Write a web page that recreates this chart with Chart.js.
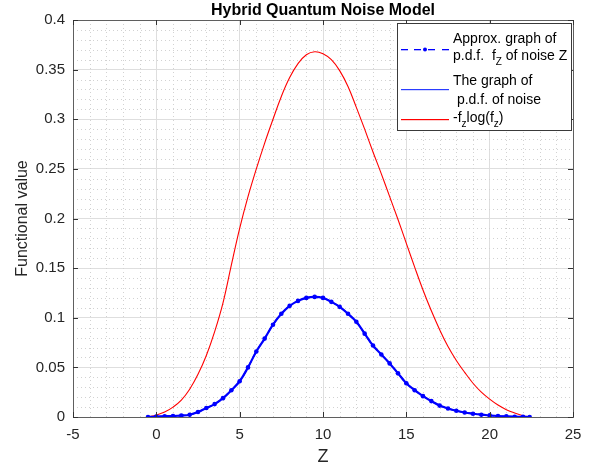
<!DOCTYPE html>
<html>
<head>
<meta charset="utf-8">
<script src="https://cdn.jsdelivr.net/npm/chart.js@4.4.1/dist/chart.umd.min.js"></script>
<style>
html,body{margin:0;padding:0;background:#fff;}
#wrap{width:591px;height:466px;position:relative;}
</style>
</head>
<body>
<div id="wrap"><canvas id="c" width="591" height="466"></canvas></div>
<script>
const chartTitle = "Hybrid Quantum Noise Model";
const xAxisTitle = "Z";
const yAxisTitle = "Functional value";
const xTicks = [-5, 0, 5, 10, 15, 20, 25];
const yTicks = [0, 0.05, 0.1, 0.15, 0.2, 0.25, 0.3, 0.35, 0.4];

const zValues = [-0.5, 0, 0.5, 1, 1.5, 2, 2.5, 3, 3.5, 4, 4.5, 5, 5.5, 6, 6.5, 7, 7.5, 8, 8.5, 9, 9.5, 10,
  10.5, 11, 11.5, 12, 12.5, 13, 13.5, 14, 14.5, 15, 15.5, 16, 16.5, 17, 17.5, 18, 18.5, 19, 19.5, 20,
  20.5, 21, 21.5, 22, 22.4];
const pdfApprox = [0, 0.0005, 0.0008, 0.001, 0.0015, 0.0023, 0.005, 0.009, 0.013, 0.019, 0.027, 0.036, 0.05,
  0.066, 0.079, 0.093, 0.104, 0.112, 0.117, 0.12, 0.121, 0.12, 0.116, 0.111, 0.104, 0.096, 0.084, 0.072,
  0.063, 0.054, 0.044, 0.034, 0.027, 0.021, 0.016, 0.0115, 0.0085, 0.0063, 0.0045, 0.0033, 0.0023, 0.0016,
  0.001, 0.0006, 0.0003, 0.0001, 0];
const pdfExact = [0, 0.0005, 0.0008, 0.001, 0.0015, 0.0023, 0.005, 0.009, 0.013, 0.019, 0.027, 0.036, 0.05,
  0.066, 0.079, 0.093, 0.104, 0.112, 0.117, 0.12, 0.121, 0.12, 0.116, 0.111, 0.104, 0.096, 0.084, 0.072,
  0.063, 0.054, 0.044, 0.034, 0.027, 0.021, 0.016, 0.0115, 0.0085, 0.0063, 0.0045, 0.0033, 0.0023, 0.0016,
  0.001, 0.0006, 0.0003, 0.0001, 0];
const entropyTerm = [0, 0.002, 0.005, 0.010, 0.017, 0.028, 0.043, 0.062, 0.086, 0.115, 0.153, 0.19, 0.222,
  0.25, 0.276, 0.3, 0.323, 0.342, 0.356, 0.365, 0.368, 0.366, 0.36, 0.349, 0.333, 0.312, 0.29, 0.267, 0.245,
  0.222, 0.199, 0.175, 0.151, 0.128, 0.107, 0.088, 0.071, 0.057, 0.045, 0.034, 0.025, 0.018, 0.012, 0.0074,
  0.004, 0.0013, 0];

function pts(xs, ys){ return xs.map((x,i)=>({x:x, y:ys[i]})); }

const FONT = "'Liberation Sans', Arial, Helvetica, sans-serif";

const decorPlugin = {
  id: 'decor',
  beforeDatasetsDraw(chart){
    const {ctx, chartArea:a, scales:{x, y}} = chart;
    ctx.save();
    ctx.strokeStyle = '#d2d2d2';
    ctx.lineWidth = 1;
    ctx.setLineDash([1, 3]);
    for (let v = -4; v < 25; v++) {
      if (v % 5 === 0) continue;
      const px = Math.round(x.getPixelForValue(v)) + 0.5;
      ctx.beginPath(); ctx.moveTo(px, a.top); ctx.lineTo(px, a.bottom); ctx.stroke();
    }
    for (let k = 1; k < 40; k++) {
      if (k % 5 === 0) continue;
      const py = Math.round(y.getPixelForValue(k/100)) + 0.5;
      ctx.beginPath(); ctx.moveTo(a.left, py); ctx.lineTo(a.right, py); ctx.stroke();
    }
    ctx.restore();
  },
  afterDraw(chart){
    const {ctx, chartArea:a, scales:{x, y}} = chart;
    ctx.save();
    ctx.setLineDash([]);
    ctx.lineWidth = 1;
    ctx.strokeStyle = '#5f5f5f';
    ctx.strokeRect(Math.round(a.left)+0.5, Math.round(a.top)+0.5, Math.round(a.right-a.left), Math.round(a.bottom-a.top));
    ctx.fillStyle = '#333333';
    xTicks.forEach(v=>{
      const px = Math.round(x.getPixelForValue(v));
      ctx.fillRect(px, a.bottom-5, 1, 5);
      ctx.fillRect(px, a.top, 1, 5);
    });
    yTicks.forEach(v=>{
      const py = Math.round(y.getPixelForValue(v));
      ctx.fillRect(a.left, py, 5, 1);
      ctx.fillRect(a.right-5, py, 5, 1);
    });
    ctx.fillStyle = '#000';
    ctx.font = "bold 16px " + FONT;
    ctx.textAlign = 'center';
    ctx.textBaseline = 'middle';
    ctx.fillText(chartTitle, (a.left + a.right)/2, 11);

    const lx = 397, ly = 23, lw = 174, lh = 107;
    ctx.fillStyle = '#fff';
    ctx.fillRect(lx, ly, lw, lh);
    ctx.strokeStyle = '#3a3a3a';
    ctx.strokeRect(lx+0.5, ly+0.5, lw, lh);

    ctx.fillStyle = '#0000ff';
    [[401,7],[414,7],[428,7],[442,7]].forEach(s=>ctx.fillRect(s[0], 49, s[1], 1.3));
    ctx.beginPath(); ctx.arc(425, 49.6, 2, 0, Math.PI*2); ctx.fill();
    ctx.fillStyle = '#2a3cff';
    ctx.fillRect(401, 89, 48, 1.2);
    ctx.fillStyle = '#ff0000';
    ctx.fillRect(401, 119, 48, 1.2);

    ctx.fillStyle = '#000';
    ctx.textAlign = 'left';
    ctx.textBaseline = 'alphabetic';
    const main = "14px " + FONT, sub = "10px " + FONT;
    function runs(parts, x0, base){
      let cx = x0;
      parts.forEach(p=>{
        ctx.font = p.s ? sub : main;
        ctx.fillText(p.t, cx, base + (p.s ? 5 : 0));
        cx += ctx.measureText(p.t).width;
      });
    }
    runs([{t:"Approx. graph of"}], 453, 43);
    runs([{t:"p.d.f.  f"},{t:"Z",s:1},{t:" of noise Z"}], 453, 60);
    runs([{t:"The graph of"}], 453, 85);
    runs([{t:" p.d.f. of noise"}], 453, 104);
    runs([{t:"-f"},{t:"z",s:1},{t:"log(f"},{t:"z",s:1},{t:")"}], 453, 122);
    ctx.restore();
  }
};

new Chart(document.getElementById('c'), {
  type: 'scatter',
  data: {
    datasets: [
      {
        label: 'The graph of p.d.f. of noise',
        data: pts(zValues, pdfExact),
        showLine: true,
        borderColor: '#0000ff',
        backgroundColor: '#0000ff',
        borderWidth: 2.2,
        pointRadius: 0,
        tension: 0.4
      },
      {
        label: 'Approx. graph of p.d.f. f_Z of noise Z',
        data: pts(zValues, pdfApprox),
        showLine: true,
        borderColor: '#0000ff',
        backgroundColor: '#0000ff',
        borderWidth: 1.5,
        borderDash: [6, 4],
        pointRadius: 2.3,
        pointBorderWidth: 0,
        tension: 0.4
      },
      {
        label: '-f_z log(f_z)',
        data: pts(zValues, entropyTerm),
        showLine: true,
        borderColor: '#ff0000',
        backgroundColor: '#ff0000',
        borderWidth: 1.1,
        pointRadius: 0,
        tension: 0.4
      }
    ]
  },
  options: {
    responsive: false,
    animation: false,
    devicePixelRatio: 1,
    layout: { padding: { top: 20, right: 18, left: 0, bottom: 0 } },
    plugins: { legend: { display: false }, title: { display: false }, tooltip: { enabled: false } },
    scales: {
      x: {
        type: 'linear', min: -5, max: 25,
        afterBuildTicks(s){ s.ticks = xTicks.map(v=>({value:v})); },
        afterFit(s){ s.height = 49; },
        grid: { color: '#dedede', lineWidth: 1, drawTicks: false },
        border: { display: false },
        ticks: { padding: 9, color: '#262626', font: { family: FONT, size: 15 }, maxRotation: 0,
          callback: v => String(v) },
        title: { display: true, text: xAxisTitle, color: '#262626', padding: 0,
          font: { family: FONT, size: 18, lineHeight: 1 } }
      },
      y: {
        type: 'linear', min: 0, max: 0.4,
        afterBuildTicks(s){ s.ticks = yTicks.map(v=>({value:v})); },
        afterFit(s){ s.width = 73; },
        grid: { color: '#dedede', lineWidth: 1, drawTicks: false },
        border: { display: false },
        ticks: { padding: 8, color: '#262626', font: { family: FONT, size: 15 },
          callback: v => String(Number(v.toFixed(2))) },
        title: { display: true, text: yAxisTitle, color: '#262626', padding: { top: 13, bottom: 0 },
          font: { family: FONT, size: 16 } }
      }
    }
  },
  plugins: [decorPlugin]
});
</script>
</body>
</html>
